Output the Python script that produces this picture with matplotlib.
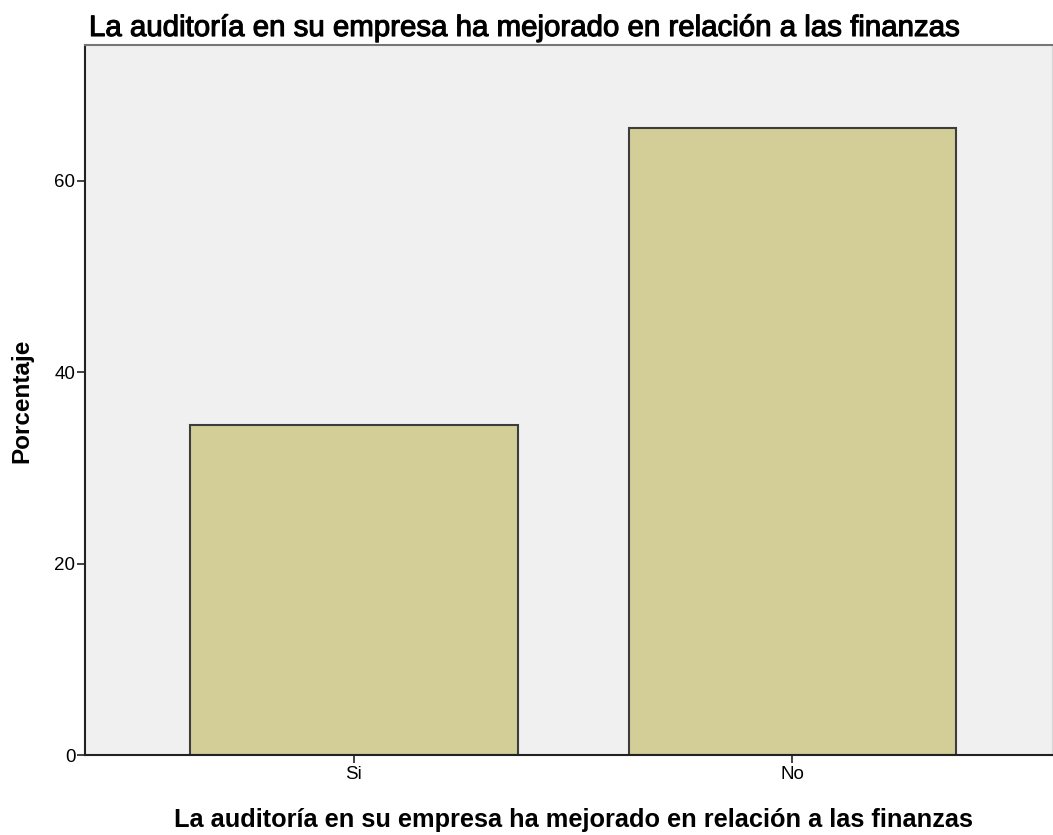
import matplotlib.pyplot as plt
import matplotlib.patheffects as pe
import numpy as np

plt.rcParams['font.family'] = ['Liberation Sans', 'DejaVu Sans']

categories = ["Si", "No"]
percent = [34.5, 65.5]
title = "La auditoría en su empresa ha mejorado en relación a las finanzas"

fig = plt.figure(figsize=(10.53, 8.35), dpi=100)
ax = fig.add_axes([85 / 1053, 80 / 835, 967 / 1053, 710 / 835])
ax.set_facecolor("#f0f0f0")

x = np.arange(len(categories))
ax.bar(x, percent, width=0.747, color="#d3ce97", edgecolor="#3c3c3c", linewidth=1.5, zorder=2)

ax.set_xlim(-0.613, 1.592)
ax.set_ylim(0, 74.2)
ax.set_yticks([0, 20, 40, 60])
ax.set_xticks(x, categories)
ax.tick_params(axis="both", labelsize=13.5, length=6, width=1.2, color="#222222", pad=1)
ax.tick_params(axis="x", pad=2)

for s in ["left", "bottom"]:
    ax.spines[s].set_color("#222222")
    ax.spines[s].set_linewidth(1.5)
ax.spines["top"].set_color("#777777")
ax.spines["top"].set_linewidth(1.5)
ax.spines["right"].set_color("#d8d8d8")
ax.spines["right"].set_linewidth(1)

# axis labels placed by hand, like the SPSS layout
ax.set_ylabel("Porcentaje", fontsize=17.5, fontweight="bold", va="center")
ax.yaxis.set_label_coords((22 - 85) / 967, (835 - 401 - 80) / 710)
ax.set_xlabel(title, fontsize=18.3, fontweight="bold", va="center")
ax.xaxis.set_label_coords((573 - 85) / 967, -(820 - 755) / 710)
# title is a bit heavier than regular weight in the original
fig.text(89 / 1053, 1 - 28 / 835, title, fontsize=21.2, ha="left", va="center",
         path_effects=[pe.withStroke(linewidth=0.8, foreground="black")])

fig.savefig("out.png", dpi=100)
